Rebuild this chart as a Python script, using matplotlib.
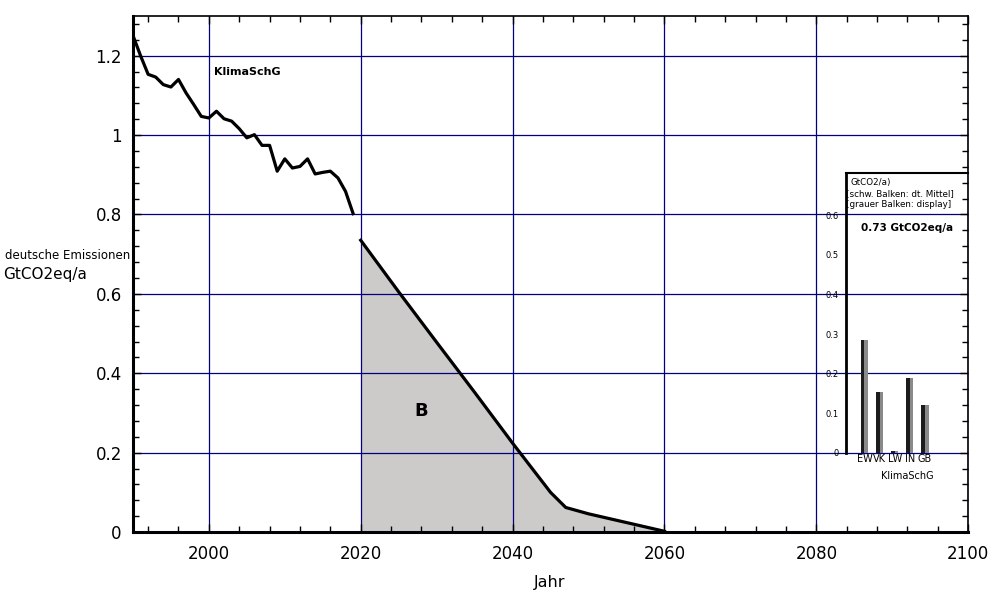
import matplotlib.pyplot as plt
import numpy as np
from matplotlib.ticker import MultipleLocator

# historical emissions (GtCO2eq/a)
hist_years = list(range(1990, 2020))
hist_vals = [1.251, 1.20, 1.153, 1.146, 1.127, 1.121, 1.140, 1.106, 1.077, 1.047,
             1.043, 1.060, 1.041, 1.035, 1.016, 0.993, 1.001, 0.974, 0.974, 0.909,
             0.940, 0.917, 0.921, 0.940, 0.902, 0.906, 0.909, 0.892, 0.858, 0.802]

# projected path
proj_years = [2020, 2025, 2030, 2035, 2040, 2045, 2047, 2050, 2055, 2060]
proj_vals = [0.735, 0.605, 0.478, 0.352, 0.224, 0.100, 0.062, 0.046, 0.024, 0.002]

# inset bars
sectors = ['EW', 'VK', 'LW', 'IN', 'GB']
mean_vals = [0.285, 0.155, 0.004, 0.190, 0.122]
disp_vals = [0.285, 0.155, 0.004, 0.190, 0.122]

NAVY = '#000080'

fig = plt.figure(figsize=(9.92, 6.13), dpi=100)
ax = fig.add_axes([0.134, 0.132, 0.842, 0.842])

ax.fill_between(proj_years, proj_vals, 0, color='#cdcaca', lw=0, zorder=1)
ax.plot(hist_years, hist_vals, color='black', lw=2.3, zorder=3)
ax.plot(proj_years, proj_vals, color='black', lw=2.3, zorder=3)

ax.set_xlim(1990, 2100)
ax.set_ylim(0, 1.3)
ax.set_xticks([2000, 2020, 2040, 2060, 2080, 2100])
ax.set_yticks([0, 0.2, 0.4, 0.6, 0.8, 1.0, 1.2])
ax.set_yticklabels(['0', '0.2', '0.4', '0.6', '0.8', '1', '1.2'])
ax.xaxis.set_minor_locator(MultipleLocator(4))
ax.yaxis.set_minor_locator(MultipleLocator(0.04))
ax.tick_params(which='major', direction='in', top=True, right=True, length=6,
               width=1, labelsize=12)
ax.tick_params(which='minor', direction='in', top=True, right=True, length=4, width=1)
ax.tick_params(axis='x', which='major', pad=9)
ax.tick_params(axis='y', which='major', pad=8)
ax.grid(True, which='major', color=NAVY, lw=0.9, zorder=2)
ax.set_axisbelow(False)
for s in ['left', 'bottom']:
    ax.spines[s].set_linewidth(2.2)
for s in ['top', 'right']:
    ax.spines[s].set_linewidth(1.2)

ax.text(2005.1, 1.16, 'KlimaSchG', fontsize=8, fontweight='bold', ha='center', va='center')
ax.text(2028.0, 0.305, 'B', fontsize=13, fontweight='bold', ha='center', va='center')

fig.text(5 / 992, 1 - 255 / 613, 'deutsche Emissionen', fontsize=8.5, ha='left', va='center')
fig.text(3 / 992, 1 - 275 / 613, 'GtCO2eq/a', fontsize=11, ha='left', va='center')
fig.text(550 / 992, 1 - 583 / 613, 'Jahr', fontsize=11.5, ha='center', va='center')

# inset
ins = fig.add_axes([846 / 992, 1 - 453 / 613, 122 / 992, 280 / 613])
ins.patch.set_alpha(0)
pos = np.arange(1, len(sectors) + 1)
w = 0.24
ins.bar(pos - w / 2, mean_vals, width=w, color='#1c1c1c', lw=0)
ins.bar(pos + w / 2, disp_vals, width=w, color='#8a8a8a', lw=0)
ins.set_xlim(-0.22, 7.85)
ins.set_ylim(0, 0.706)
ins.set_yticks([0, 0.1, 0.2, 0.3, 0.4, 0.5, 0.6])
ins.set_yticklabels(['0', '0.1', '0.2', '0.3', '0.4', '0.5', '0.6'])
ins.set_xticks(pos)
ins.set_xticklabels(sectors)
ins.tick_params(axis='y', direction='in', length=0, labelsize=6, pad=5)
ins.tick_params(axis='x', length=0, labelsize=7, pad=1)
ins.spines['right'].set_visible(False)
ins.spines['bottom'].set_visible(False)
ins.spines['left'].set_linewidth(2)
ins.spines['top'].set_linewidth(1.5)
ins.set_xlabel('KlimaSchG', fontsize=7, labelpad=5)

ins.text(0.04, 0.965, 'GtCO2/a)', transform=ins.transAxes, fontsize=6.3, va='center')
ins.text(0.0, 0.925, '[schw. Balken: dt. Mittel]', transform=ins.transAxes, fontsize=6.3, va='center')
ins.text(0.0, 0.887, '[grauer Balken: display]', transform=ins.transAxes, fontsize=6.3, va='center')
ins.text(0.5, 0.805, '0.73 GtCO2eq/a', transform=ins.transAxes, fontsize=7.5,
         fontweight='bold', ha='center', va='center')

fig.savefig('out.png', dpi=100)
